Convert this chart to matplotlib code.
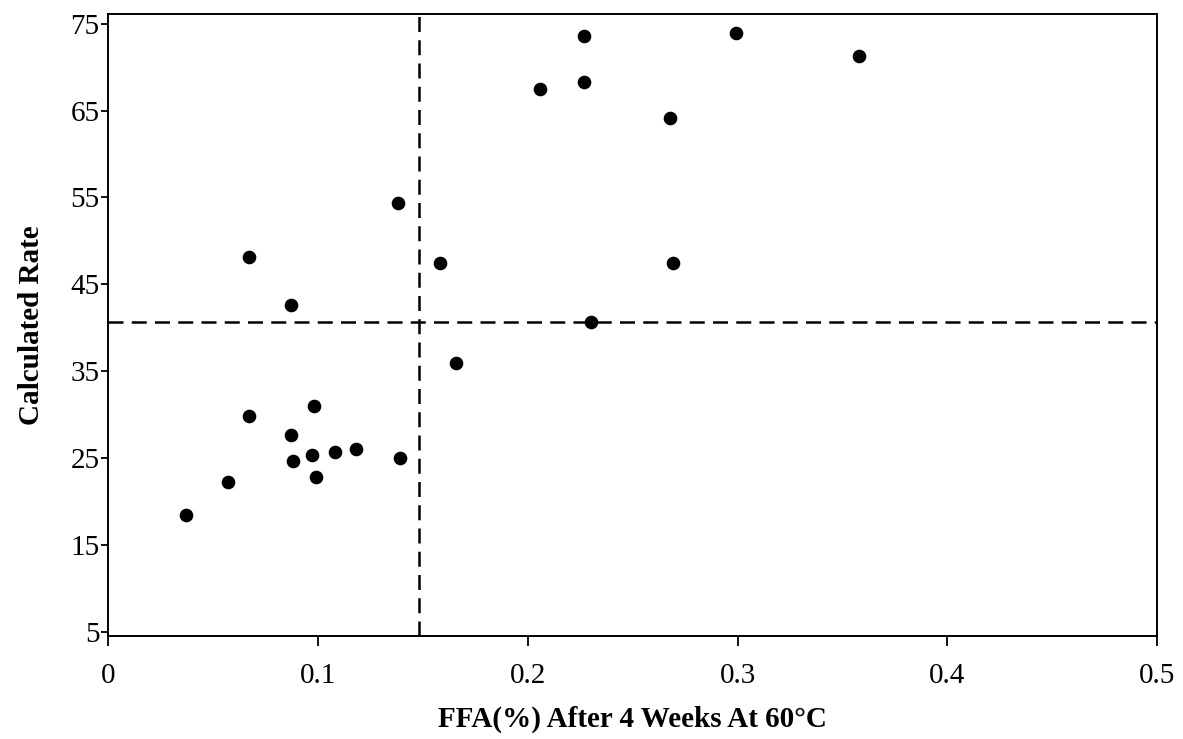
import matplotlib
matplotlib.use("Agg")
import matplotlib.pyplot as plt

# FFA after 4 weeks vs calculated rate
ffa = [0.037, 0.057, 0.067, 0.067, 0.087, 0.087, 0.088, 0.098, 0.097, 0.099,
       0.108, 0.118, 0.139, 0.138, 0.158, 0.166, 0.206, 0.227, 0.227, 0.230,
       0.268, 0.269, 0.299, 0.358]
rate = [18.5, 22.3, 29.8, 48.1, 42.6, 27.7, 24.7, 31.0, 25.4, 22.8,
        25.7, 26.0, 25.0, 54.4, 47.4, 35.9, 67.5, 73.6, 68.3, 40.7,
        64.1, 47.4, 73.9, 71.3]

x_cut = 0.148   # vertical reference line
y_cut = 40.7    # horizontal reference line

xticks = [0, 0.1, 0.2, 0.3, 0.4, 0.5]
xticklabels = ["0", "0.1", "0.2", "0.3", "0.4", "0.5"]
yticks = [5, 15, 25, 35, 45, 55, 65, 75]

plt.rcParams["font.family"] = ["Liberation Serif", "DejaVu Serif"]

fig = plt.figure(figsize=(11.83, 7.39), dpi=100)
ax = fig.add_axes([0.0913, 0.139, 0.887, 0.842])

ax.plot(ffa, rate, "o", color="black", markersize=8.8, zorder=3)
ax.axvline(x_cut, color="black", lw=1.8, dashes=(6, 3.3), zorder=2)
ax.axhline(y_cut, color="black", lw=1.8, dashes=(6, 3.3), zorder=2)

ax.set_xlim(0, 0.5)
ax.set_ylim(4.5, 76.1)
ax.set_xticks(xticks)
ax.set_xticklabels(xticklabels)
ax.set_yticks(yticks)

for s in ax.spines.values():
    s.set_linewidth(1.4)
ax.tick_params(axis="x", direction="out", length=7, width=1.3, labelsize=21, pad=12)
ax.tick_params(axis="y", direction="out", length=5, width=1.3, labelsize=21, pad=1)

ax.set_xlabel("FFA(%) After 4 Weeks At 60°C", fontsize=21, fontweight="bold", labelpad=12)
ax.set_ylabel("Calculated Rate", fontsize=21, fontweight="bold", labelpad=18)

fig.savefig("out.png", dpi=100, facecolor="white")
